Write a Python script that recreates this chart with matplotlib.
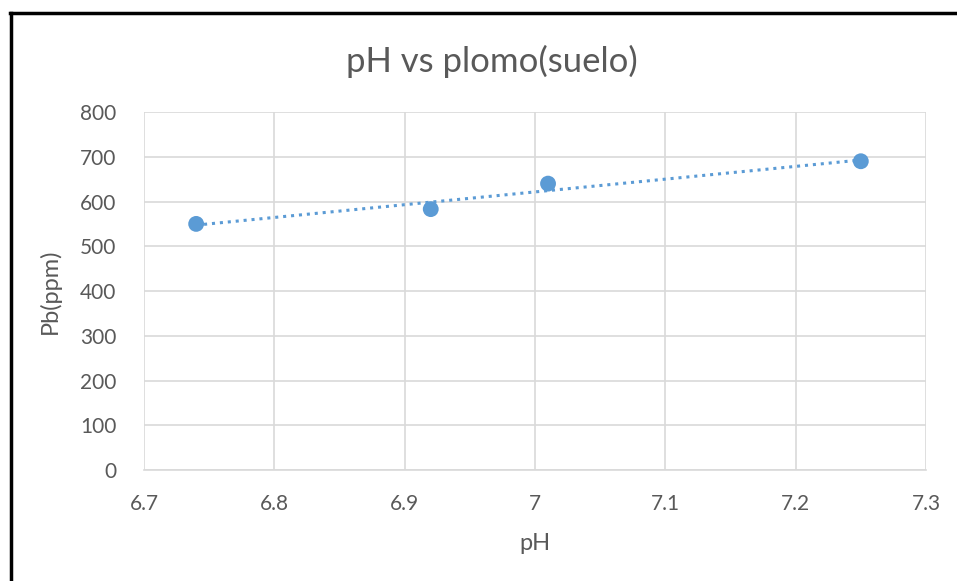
import numpy as np
import matplotlib.pyplot as plt
from matplotlib.lines import Line2D

ph = [6.74, 6.92, 7.01, 7.25]
plomo = [550, 583, 640, 690]
x_ticks = [6.7, 6.8, 6.9, 7.0, 7.1, 7.2, 7.3]
x_labels = ['6.7', '6.8', '6.9', '7', '7.1', '7.2', '7.3']
y_ticks = [0, 100, 200, 300, 400, 500, 600, 700, 800]

TEXT = '#595959'
GRID = '#d9d9d9'
BLUE = '#5b9bd5'

plt.rcParams['font.family'] = ['Lato', 'DejaVu Sans']

fig = plt.figure(figsize=(9.57, 5.81), dpi=100)
ax = fig.add_axes([0.1505, 0.191, 0.8171, 0.6162])

# trendline (linear fit)
m, b = np.polyfit(ph, plomo, 1)
xs = np.array([min(ph), max(ph)])
ax.plot(xs, m * xs + b, linestyle=(0, (1, 1.6)), color=BLUE, linewidth=2.2, zorder=2)
ax.scatter(ph, plomo, s=130, color=BLUE, zorder=3, edgecolors='none')

ax.set_xlim(6.7, 7.3)
ax.set_ylim(0, 800)
ax.set_xticks(x_ticks)
ax.set_xticklabels(x_labels)
ax.set_yticks(y_ticks)
ax.grid(True, color=GRID, linewidth=1.2)
ax.set_axisbelow(True)
for side in ['top', 'right', 'left']:
    ax.spines[side].set_visible(False)
ax.spines['bottom'].set_color(GRID)
ax.spines['bottom'].set_linewidth(1.2)
ax.tick_params(length=0, labelsize=15, colors=TEXT)
ax.tick_params(axis='x', pad=17)
ax.tick_params(axis='y', pad=20)

ax.set_xlabel('pH', fontsize=17, color=TEXT, labelpad=14)
ax.set_ylabel('Pb(ppm)', fontsize=17, color=TEXT, labelpad=14)
fig.text(0.514, 0.895, 'pH vs plomo(suelo)', fontsize=25, color=TEXT, ha='center', va='center')

# black frame around the chart
fig.add_artist(Line2D([0.0115, 0.0115], [0, 0.978], color='black', linewidth=2.5))
fig.add_artist(Line2D([0.0105, 1.0], [0.978, 0.978], color='black', linewidth=2.5))

fig.savefig('out.png', dpi=100)
